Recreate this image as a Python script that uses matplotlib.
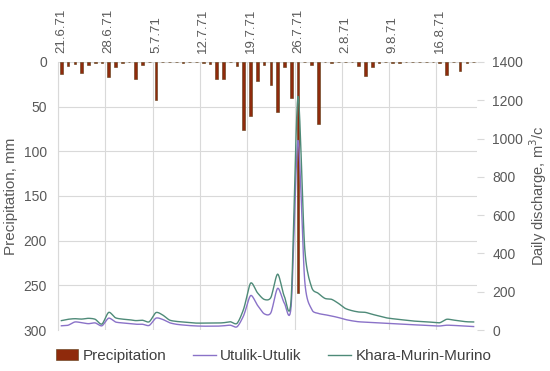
import matplotlib
matplotlib.use("Agg")
import matplotlib.pyplot as plt
from matplotlib.patches import Patch
from matplotlib.lines import Line2D
import numpy as np

plt.rcParams['font.family'] = ['Liberation Sans', 'DejaVu Sans']

# 62 daily categories starting 21.6.71
date_labels = ["21.6.71", "28.6.71", "5.7.71", "12.7.71", "19.7.71",
               "26.7.71", "2.8.71", "9.8.71", "16.8.71"]
label_days = [0, 7, 14, 21, 28, 35, 42, 49, 56]

precip = [13, 4, 2, 12, 3, 1.5, 1, 17, 6, 1, 0, 19.5, 3, 0, 42.5, 0,
          0, 0, 1, 0, 0, 1, 2, 19.5, 19, 0, 4, 76, 60, 21,
          3.5, 26, 55.6, 6, 40.7, 259, 0, 3.5, 69, 0, 1.5, 0, 0, 0,
          4, 16, 6, 1.5, 0, 1, 1, 0, 0, 0, 0, 0, 1.5, 14.5, 0, 10,
          1.5, 0]

utulik = [22, 25, 42, 38, 33, 37, 22, 62, 42, 37, 33, 30, 30, 24, 62, 55,
          38, 30, 26, 23, 21, 20, 20, 20, 22, 25, 17, 78, 180, 130,
          85, 90, 218, 140, 125, 990, 260, 110, 87, 80, 73, 65, 55, 48,
          43, 41, 39, 37, 35, 33, 31, 29, 27, 26, 24, 22, 21, 25, 24, 22,
          20, 18]

khara = [49, 56, 59, 57, 61, 56, 31, 92, 64, 57, 54, 49, 51, 43, 91, 78,
         52, 45, 42, 38, 36, 36, 36, 36, 38, 43, 35, 113, 245, 195,
         160, 170, 292, 175, 160, 1220, 430, 226, 192, 165, 160, 139, 113, 101,
         94, 92, 82, 73, 64, 59, 55, 51, 47, 45, 43, 40, 38, 56, 52, 47,
         43, 42]

n = len(precip)
x = np.arange(n) + 0.5


def smooth(xs, ys, steps=10):
    """Catmull-Rom rendering of a line through the given points (like Excel's smoothed line)."""
    xs = np.asarray(xs, float)
    ys = np.asarray(ys, float)
    px = np.concatenate([[xs[0]], xs, [xs[-1]]])
    py = np.concatenate([[ys[0]], ys, [ys[-1]]])
    out_x, out_y = [], []
    t = np.linspace(0, 1, steps, endpoint=False)
    for i in range(1, len(px) - 2):
        p0, p1, p2, p3 = py[i-1], py[i], py[i+1], py[i+2]
        q0, q1, q2, q3 = px[i-1], px[i], px[i+1], px[i+2]
        m1y, m2y = (p2 - p0) / 2 * 0.8, (p3 - p1) / 2 * 0.8
        m1x, m2x = (q2 - q0) / 2 * 0.8, (q3 - q1) / 2 * 0.8
        h00 = 2*t**3 - 3*t**2 + 1
        h10 = t**3 - 2*t**2 + t
        h01 = -2*t**3 + 3*t**2
        h11 = t**3 - t**2
        out_x.extend(h00*q1 + h10*m1x + h01*q2 + h11*m2x)
        out_y.extend(h00*p1 + h10*m1y + h01*p2 + h11*m2y)
    out_x.append(xs[-1])
    out_y.append(ys[-1])
    return np.array(out_x), np.array(out_y)


gray = '#595959'
gridc = '#d9d9d9'

fig = plt.figure(figsize=(5.5, 3.71), dpi=100)
ax = fig.add_axes([58/550, 1-330/371, (477-58)/550, (330-62)/371])
ax2 = ax.twinx()

ax.bar(x, precip, width=0.4, color='#8f2a0c', edgecolor='#5c3a12', linewidth=0.4, zorder=3)
ax.set_ylim(300, 0)
ax.set_xlim(0, n)
ax.set_yticks(range(0, 301, 50))
ax.grid(axis='y', color=gridc, linewidth=0.8, zorder=0)

ax.xaxis.tick_top()
ax.set_xticks([d + 0.5 for d in label_days])
ax.set_xticklabels(date_labels, rotation=90, fontsize=9.5, color=gray)
ax.set_xticks(label_days, minor=True)
ax.grid(axis='x', which='minor', color=gridc, linewidth=0.8, zorder=0)
ax.tick_params(axis='x', which='both', length=0, pad=6.5)
ax.tick_params(axis='y', length=0, pad=8, labelsize=10, labelcolor=gray)
ax.set_ylabel("Precipitation, mm", fontsize=11, color=gray, labelpad=4)

for s in ['top', 'bottom', 'right']:
    ax.spines[s].set_visible(False)
ax.spines['left'].set_color(gridc)

ux, uy = smooth(x, utulik)
kx, ky = smooth(x, khara)
ax2.plot(ux, uy, color='#8a72c8', linewidth=1.0, zorder=4)
ax2.plot(kx, ky, color='#4e8a78', linewidth=1.0, zorder=4)
ax2.set_ylim(0, 1400)
ax2.set_yticks(range(0, 1401, 200))
ax2.tick_params(axis='y', length=5, color=gridc, pad=6, labelsize=10, labelcolor=gray)
ax2.set_ylabel("Daily discharge, m$^3$/c", fontsize=10.5, color=gray, labelpad=3)
for s in ['top', 'bottom', 'left', 'right']:
    ax2.spines[s].set_visible(False)

handles = [Patch(facecolor='#8f2a0c', edgecolor='#5c3a12', linewidth=0.4),
           Line2D([0], [0], color='#8a72c8', linewidth=1.0),
           Line2D([0], [0], color='#4e8a78', linewidth=1.0)]
fig.legend(handles, ["Precipitation", "Utulik-Utulik", "Khara-Murin-Murino"],
           loc='center', bbox_to_anchor=(0.497, 1-356/371), ncol=3, frameon=False,
           fontsize=11, labelcolor='#404040', handlelength=1.5, columnspacing=1.7,
           handletextpad=0.3)

fig.savefig("out.png", dpi=100)
